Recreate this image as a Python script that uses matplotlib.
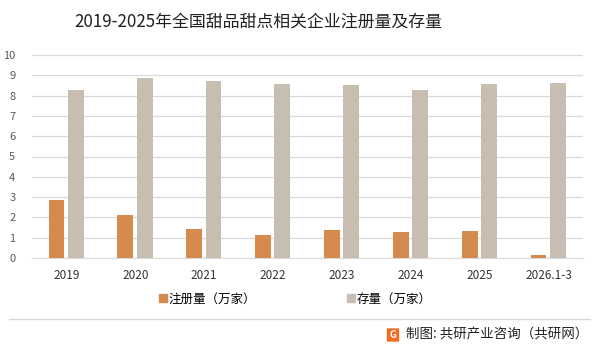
import matplotlib.pyplot as plt
import numpy as np
from matplotlib.patches import FancyBboxPatch
from matplotlib.lines import Line2D

plt.rcParams['font.family'] = ['Noto Sans CJK SC', 'DejaVu Sans']

# 数据
categories = ['2019', '2020', '2021', '2022', '2023', '2024', '2025', '2026.1-3']
registered = [2.85, 2.11, 1.41, 1.11, 1.36, 1.26, 1.31, 0.16]
stock = [8.28, 8.87, 8.72, 8.57, 8.52, 8.28, 8.57, 8.62]

ORANGE = '#D58B4E'
GRAY = '#C8BDB1'

fig = plt.figure(figsize=(6.01, 3.46), dpi=100)
ax = fig.add_axes([32 / 601, 1 - 258 / 346, 551 / 601, 203 / 346])

x = np.arange(len(categories))
w = 0.23
ax.bar(x - 0.145, registered, width=w, color=ORANGE, zorder=3, label='注册量（万家）')
ax.bar(x + 0.135, stock, width=w, color=GRAY, zorder=3, label='存量（万家）')

ax.set_xlim(-0.5, len(categories) - 0.5)
ax.set_ylim(0, 10)
ax.set_yticks(range(0, 11))
ax.grid(axis='y', color='#d9d9d9', linewidth=0.9, zorder=0)
for s in ['top', 'right', 'left']:
    ax.spines[s].set_visible(False)
ax.spines['bottom'].set_color('#d9d9d9')
ax.set_xticks(x)
ax.set_xticklabels(categories)
ax.tick_params(axis='x', length=0, pad=8, labelsize=8.5, labelcolor='#333333')
ax.tick_params(axis='y', length=0, pad=12, labelsize=8, labelcolor='#595959')

# 标题
fig.text(258 / 601, 1 - 22 / 346, '2019-2025年全国甜品甜点相关企业注册量及存量',
         ha='center', va='center', fontsize=12.2, color='#222222')

# 图例
handles = [Line2D([], [], marker='s', linestyle='none', color=ORANGE, markersize=5.5),
           Line2D([], [], marker='s', linestyle='none', color=GRAY, markersize=5.5)]
fig.legend(handles, ['注册量（万家）', '存量（万家）'], loc='center',
           bbox_to_anchor=(0.49, 1 - 299 / 346), ncol=2, frameon=False,
           fontsize=9, handletextpad=0.0, columnspacing=7.2, handlelength=0.9)

# 分隔线
fig.add_artist(Line2D([9 / 601, 590 / 601], [1 - 319 / 346, 1 - 319 / 346],
                      color='#d9d9d9', linewidth=1))

# 来源
logo = FancyBboxPatch((388 / 601, 1 - 341 / 346), 10 / 601, 12 / 346,
                      boxstyle='round,pad=0.002', transform=fig.transFigure,
                      facecolor='#F26B21', edgecolor='none')
fig.add_artist(logo)
fig.text(393 / 601, 1 - 335 / 346, 'G', ha='center', va='center',
         fontsize=7, color='white', fontweight='bold')
fig.text(588 / 601, 1 - 335 / 346, '制图: 共研产业咨询（共研网）',
         ha='right', va='center', fontsize=9.7, color='#222222')

fig.savefig('out.png', dpi=100)
